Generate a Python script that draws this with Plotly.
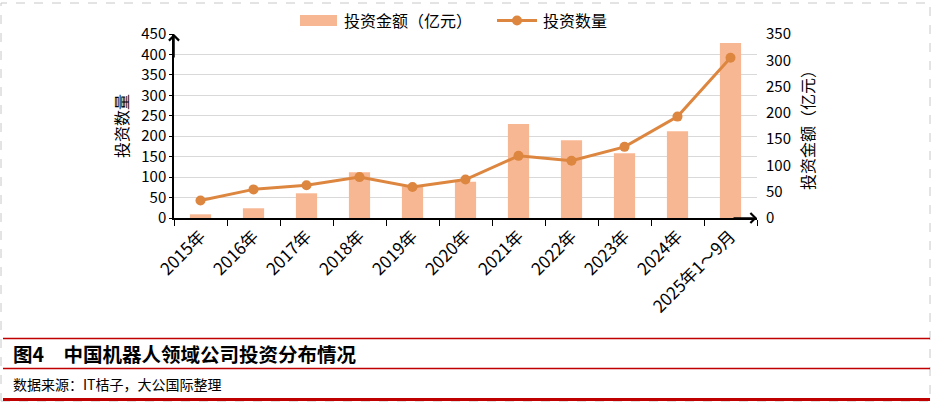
import plotly.graph_objects as go

categories = ["2015年", "2016年", "2017年", "2018年", "2019年", "2020年",
              "2021年", "2022年", "2023年", "2024年", "2025年1～9月"]
amount_yi = [7, 18.5, 47, 87, 60, 69, 179, 148, 123, 165, 333]      # 投资金额（亿元）, right axis
deal_count = [43, 70, 80, 100, 76, 94, 152, 140, 174, 248, 392]      # 投资数量, left axis

BAR_COLOR = "#F8B793"
LINE_COLOR = "#DD8640"
RED = "#C00000"
FONT = "Noto Sans CJK SC"

W, H = 935, 403
L, R, T, B = 174, 178, 34, 185
PW, PH = W - L - R, H - T - B


def px(x):
    return (x - L) / PW


def py(y):
    return (H - B - y) / PH


fig = go.Figure()
fig.add_trace(go.Bar(x=categories, y=amount_yi, name="投资金额（亿元）",
                     marker=dict(color=BAR_COLOR, line=dict(width=0)),
                     yaxis="y"))
fig.add_trace(go.Scatter(x=categories, y=deal_count, name="投资数量",
                         mode="lines+markers",
                         line=dict(color=LINE_COLOR, width=3),
                         marker=dict(color=LINE_COLOR, size=10),
                         yaxis="y2"))

shapes = []
# legend swatches
shapes.append(dict(type="rect", xref="paper", yref="paper",
                   x0=px(300), x1=px(337), y0=py(26), y1=py(15),
                   fillcolor=BAR_COLOR, line=dict(width=0)))
shapes.append(dict(type="line", xref="paper", yref="paper",
                   x0=px(497), x1=px(537), y0=py(20.5), y1=py(20.5),
                   line=dict(color=LINE_COLOR, width=3)))
shapes.append(dict(type="circle", xref="paper", yref="paper",
                   x0=px(512), x1=px(522), y0=py(25.5), y1=py(15.5),
                   fillcolor=LINE_COLOR, line=dict(width=0)))
# dashed frame
shapes.append(dict(type="rect", xref="paper", yref="paper",
                   x0=px(1), x1=px(930), y0=py(401), y1=py(3),
                   line=dict(color="#C8C8C8", width=1, dash="dash")))
# red rules
for yy, wd in [(338.5, 1.5), (368.5, 1.5), (399.5, 3)]:
    shapes.append(dict(type="line", xref="paper", yref="paper",
                       x0=px(3), x1=px(930), y0=py(yy), y1=py(yy),
                       line=dict(color=RED, width=wd)))

annotations = [
    dict(text="投资金额（亿元）", xref="paper", yref="paper", x=px(342), y=py(20.5),
         xanchor="left", yanchor="middle", showarrow=False,
         font=dict(family=FONT, size=16, color="#000")),
    dict(text="投资数量", xref="paper", yref="paper", x=px(541), y=py(20.5),
         xanchor="left", yanchor="middle", showarrow=False,
         font=dict(family=FONT, size=16, color="#000")),
    dict(text="<b>图4　中国机器人领域公司投资分布情况</b>", xref="paper", yref="paper",
         x=px(11), y=py(353.5), xanchor="left", yanchor="middle", showarrow=False,
         font=dict(family=FONT, size=19.5, color="#000")),
    dict(text="数据来源：IT桔子，大公国际整理", xref="paper", yref="paper",
         x=px(11), y=py(383.5), xanchor="left", yanchor="middle", showarrow=False,
         font=dict(family=FONT, size=14, color="#000")),
    # axis arrows
    dict(text="", xref="paper", yref="paper", x=0, y=1, ax=0, ay=25,
         showarrow=True, arrowhead=4, arrowsize=1.3, arrowwidth=1.5, arrowcolor="#000"),
    dict(text="", xref="paper", yref="paper", x=1, y=0, ax=-25, ay=0,
         showarrow=True, arrowhead=4, arrowsize=1.3, arrowwidth=1.5, arrowcolor="#000"),
]

fig.update_layout(
    width=W, height=H,
    margin=dict(l=L, r=R, t=T, b=B, pad=0, autoexpand=False),
    paper_bgcolor="white", plot_bgcolor="white",
    showlegend=False,
    bargap=0.6,
    font=dict(family=FONT, size=15, color="#000"),
    xaxis=dict(type="category", range=[-0.5, len(categories) - 0.5],
               showline=True, linecolor="#000", linewidth=1.5,
               ticks="outside", tickson="boundaries", ticklen=6, tickcolor="#000",
               tickwidth=1, tickangle=-45, showgrid=False, automargin=False,
               tickfont=dict(family=FONT, size=17, color="#000")),
    yaxis=dict(side="right", range=[0, 350], dtick=50, showgrid=False,
               showline=False, ticks="", zeroline=False, automargin=False,
               ticklabelstandoff=8,
               tickfont=dict(family=FONT, size=15, color="#000"),
               title=dict(text="投资金额（亿元）", standoff=12,
                          font=dict(family=FONT, size=16, color="#000"))),
    yaxis2=dict(side="left", overlaying="y", range=[0, 450], dtick=50,
                showgrid=True, gridcolor="#D9D9D9", gridwidth=1,
                showline=True, linecolor="#000", linewidth=1.5, automargin=False,
                ticks="outside", ticklen=3, tickcolor="#000", zeroline=False,
                tickfont=dict(family=FONT, size=15, color="#000"),
                title=dict(text="投资数量", standoff=9,
                           font=dict(family=FONT, size=16, color="#000"))),
    shapes=shapes,
    annotations=annotations,
)

fig.write_html("out.html")
